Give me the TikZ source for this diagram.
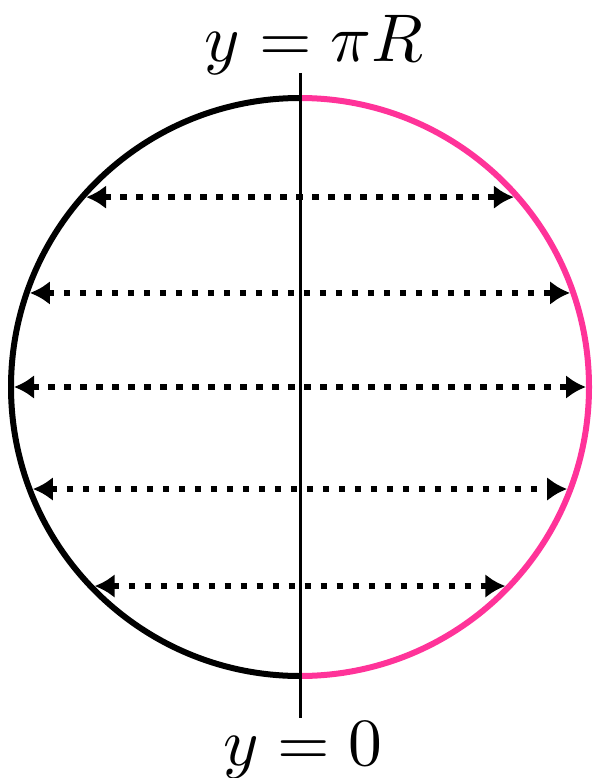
\documentclass[tikz,border=0pt]{standalone}
\usetikzlibrary{arrows.meta,calc}
\definecolor{pinkarc}{RGB}{255,51,153}
\tikzset{
  lbl/.style={inner sep=0pt},
  darrow/.style={line width=6pt, dash pattern=on 6.5pt off 9.5pt,
     {Latex[length=20pt,width=24pt]}-{Latex[length=20pt,width=24pt]}},
  ring/.style={line width=6pt}
}
\begin{document}
\begin{tikzpicture}[x=1pt,y=-1pt]
\useasboundingbox (0,0) rectangle (592,778);
\coordinate (c) at (300,387);
\draw[ring, pinkarc] (300,98) arc[start angle=-90, end angle=90, radius=289];
\draw[ring, black] (300,98) arc[start angle=-90, end angle=-270, radius=289];
\coordinate (top) at (300,73);
\coordinate (bot) at (300,718);
\draw[line width=3pt] (top) -- (bot);
\node[lbl, anchor=base] (tl) at (314,62) {\scalebox{6.75}{$y=\pi R$}};
\node[lbl, anchor=base] (bl) at (303,765) {\scalebox{6.75}{$y=0$}};
\foreach \a [count=\i] in {-41.6,-19.2,0,20.9,44.1}{
  \coordinate (L\i) at ($(c)+(180-\a:286)$);
  \coordinate (R\i) at ($(c)+(\a:286)$);
  \draw[darrow] (L\i) -- (R\i);
}
\end{tikzpicture}
\end{document}
